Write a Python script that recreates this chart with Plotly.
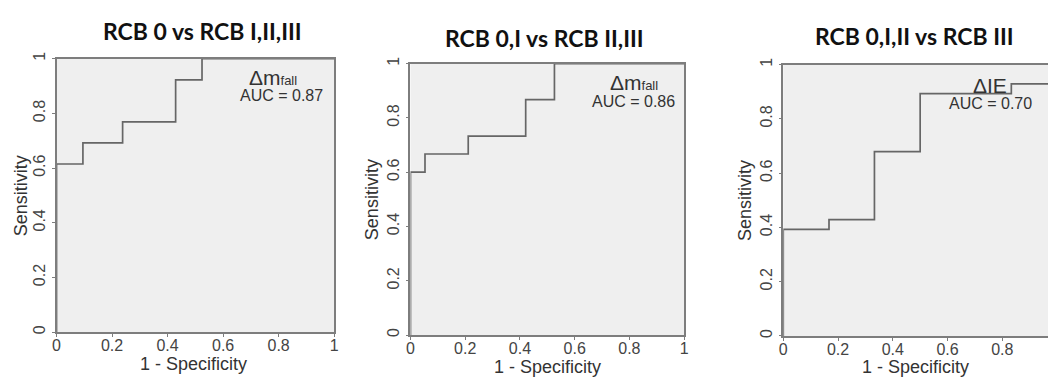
import plotly.graph_objects as go

W, H = 1053, 379

titles = ["RCB 0 vs RCB I,II,III", "RCB 0,I vs RCB II,III", "RCB 0,I,II vs RCB III"]
markers = ["Δm<span style='font-size:13px'>fall</span>",
           "Δm<span style='font-size:13px'>fall</span>",
           "ΔIE"]
aucs = ["AUC = 0.87", "AUC = 0.86", "AUC = 0.70"]

fpr1 = [0, 0, 0.095, 0.238, 0.429, 0.524, 1]
tpr1 = [0, 0.615, 0.692, 0.769, 0.923, 1, 1]
fpr2 = [0, 0, 0.053, 0.211, 0.421, 0.526, 1]
tpr2 = [0, 0.600, 0.667, 0.733, 0.867, 1, 1]
fpr3 = [0, 0, 0.167, 0.333, 0.500, 0.833, 1]
tpr3 = [0, 0.393, 0.429, 0.679, 0.893, 0.929, 1]

ticks = [0, 0.2, 0.4, 0.6, 0.8, 1]
tick_text = ["0", "0.2", "0.4", "0.6", "0.8", "1"]

# panel pixel boxes: left, right, top, bottom, x range max
panels = [
    (53, 333, 53, 333, 1.0),
    (410, 686, 58, 336, 1.0),
    (786, 1053, 59, 337, 0.967),
]
title_pos = [(200, 25), (545, 32), (918, 30)]
ytitle_x = [18, 372, 748]
xtitle_y = [366, 369, 369]
mark_pos = [(271, 72, 280, 91), (635, 77, 635, 97), (995, 80, 995, 99)]

series = [(fpr1, tpr1), (fpr2, tpr2), (fpr3, tpr3)]

fig = go.Figure()
layout = dict(
    width=W, height=H, margin=dict(l=0, r=0, t=0, b=0),
    paper_bgcolor="white", plot_bgcolor="#efefef", showlegend=False,
    font=dict(family="Liberation Sans, Arial", color="#444"),
)
annotations = []
LINE = "#7d7d7d"
for i, ((l, r, t, b, xmax), (fx, ty)) in enumerate(zip(panels, series)):
    n = "" if i == 0 else str(i + 1)
    xa, ya = "x" + n, "y" + n
    fig.add_trace(go.Scatter(x=fx, y=ty, mode="lines", line_shape="hv",
                             line=dict(color="#666666", width=1.7),
                             xaxis=xa, yaxis=ya, hoverinfo="skip"))
    layout["xaxis" + n] = dict(
        domain=[l / W, r / W], range=[0, xmax], anchor=ya,
        tickvals=ticks, ticktext=tick_text, ticks="outside", ticklen=3,
        tickcolor=LINE, showline=True, linecolor=LINE, linewidth=1.5,
        mirror=True, showgrid=False, zeroline=False, ticklabelstandoff=-5,
        tickfont=dict(size=16, color="#444"), fixedrange=True,
    )
    layout["yaxis" + n] = dict(
        domain=[1 - b / H, 1 - t / H], range=[0, 1], anchor=xa,
        tickvals=ticks, ticktext=tick_text, ticks="outside", ticklen=3,
        tickcolor=LINE, showline=True, linecolor=LINE, linewidth=1.5,
        mirror=(xmax >= 1), showgrid=False, zeroline=False, tickangle=-90,
        tickfont=dict(size=16, color="#444"), fixedrange=True,
    )
    tx, tyy = title_pos[i]
    annotations.append(dict(text="<b>" + titles[i] + "</b>", x=tx / W, y=1 - tyy / H,
                            xref="paper", yref="paper", showarrow=False,
                            xanchor="center", yanchor="middle",
                            font=dict(family="Lato, Open Sans", size=23, color="#111")))
    annotations.append(dict(text="1 - Specificity", x=(l + min(r, l + 276)) / 2 / W,
                            y=1 - xtitle_y[i] / H, xref="paper", yref="paper", showarrow=False,
                            xanchor="center", yanchor="middle",
                            font=dict(size=18, color="#333")))
    annotations.append(dict(text="Sensitivity", x=ytitle_x[i] / W,
                            y=1 - ((t + b) / 2) / H, xref="paper", yref="paper",
                            showarrow=False, textangle=-90,
                            xanchor="center", yanchor="middle",
                            font=dict(size=18, color="#333")))
    mx, my, ax_, ay_ = mark_pos[i]
    annotations.append(dict(text=markers[i], x=mx / W, y=1 - my / H, xref="paper",
                            yref="paper", showarrow=False, xanchor="center",
                            yanchor="middle", font=dict(size=21, color="#333")))
    annotations.append(dict(text=aucs[i], x=ax_ / W, y=1 - ay_ / H, xref="paper",
                            yref="paper", showarrow=False, xanchor="center",
                            yanchor="middle", font=dict(size=16, color="#333")))

layout["annotations"] = annotations
fig.update_layout(**layout)
fig.write_html("out.html")
